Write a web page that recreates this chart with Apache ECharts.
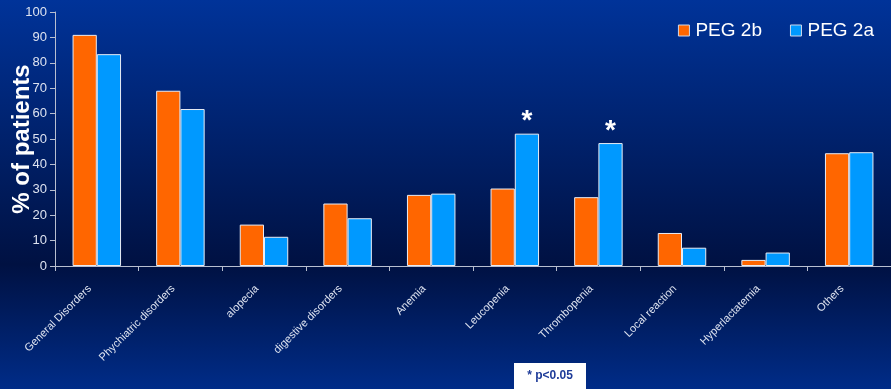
<!DOCTYPE html>
<html>
<head>
<meta charset="utf-8">
<script src="https://cdn.jsdelivr.net/npm/echarts@6/dist/echarts.min.js"></script>
<style>html,body{margin:0;padding:0;background:#001a55;}#c{width:891px;height:389px;}</style>
</head>
<body>
<div id="c"></div>
<script>
const categories = ['General Disorders','Phychiatric disorders','alopecia','digestive disorders','Anemia','Leucopenia','Thrombopenia','Local reaction','Hyperlactatemia','Others'];
const peg2b = [91, 69, 16.3, 24.6, 28, 30.5, 27.1, 13, 2.4, 44.4];
const peg2a = [83.4, 61.8, 11.5, 18.8, 28.5, 52.1, 48.4, 7.2, 5.3, 44.8];
const significant = [false, false, false, false, false, true, true, false, false, false];
const yTicks = [0, 10, 20, 30, 40, 50, 60, 70, 80, 90, 100];

const chart = echarts.init(document.getElementById('c'));
const barBorder = {borderColor: '#e8ecf4', borderWidth: 1};
chart.setOption({
  backgroundColor: {
    type: 'linear', x: 0, y: 0, x2: 0, y2: 1,
    colorStops: [
      {offset: 0, color: '#003399'},
      {offset: 0.68, color: '#001142'},
      {offset: 1, color: '#002c88'}
    ]
  },
  animation: false,
  grid: {left: 55, right: 0, top: 12, bottom: 123, containLabel: false, outerBoundsMode: 'none'},
  legend: {
    top: 16, right: 12, itemWidth: 11, itemHeight: 11, itemGap: 28,
    icon: 'rect',
    textStyle: {color: '#ffffff', fontSize: 19, fontFamily: 'Liberation Sans, Arial, sans-serif', padding: [0, 0, 0, 1]},
    data: [
      {name: 'PEG 2b', itemStyle: {borderColor: '#cfd8ea', borderWidth: 1}},
      {name: 'PEG 2a', itemStyle: {borderColor: '#cfd8ea', borderWidth: 1}}
    ]
  },
  xAxis: {
    type: 'category', data: categories,
    axisLine: {lineStyle: {color: '#b8bfd0', width: 1}},
    axisTick: {show: true, inside: false, length: 5, alignWithLabel: false, lineStyle: {color: '#b8bfd0'}},
    axisLabel: {
      interval: 0, rotate: 45, margin: 14, padding: [0, 10, 0, 0],
      color: '#dde3f0', fontSize: 11, fontFamily: 'Liberation Sans, Arial, sans-serif'
    }
  },
  yAxis: {
    type: 'value', min: yTicks[0], max: yTicks[yTicks.length - 1], interval: 10,
    name: '% of patients', nameLocation: 'middle', nameGap: 21, nameRotate: 90,
    nameMoveOverlap: false,
    nameTextStyle: {color: '#ffffff', fontSize: 24, fontWeight: 'bold', fontFamily: 'Liberation Sans, Arial, sans-serif'},
    axisLine: {show: true, lineStyle: {color: '#b8bfd0'}},
    axisTick: {show: true, length: 5, lineStyle: {color: '#b8bfd0'}},
    splitLine: {show: false},
    axisLabel: {color: '#dde3f0', fontSize: 13, margin: 8, fontFamily: 'Liberation Sans, Arial, sans-serif'}
  },
  series: [
    {
      name: 'PEG 2b', type: 'bar', data: peg2b,
      barGap: '0%', barCategoryGap: '42%',
      itemStyle: Object.assign({color: '#ff6600'}, barBorder)
    },
    {
      name: 'PEG 2a', type: 'bar',
      data: peg2a.map((v, i) => significant[i] ? {
        value: v,
        label: {show: true, position: 'top', formatter: '*', color: '#ffffff', fontSize: 28, fontWeight: 'bold', distance: -2, fontFamily: 'Liberation Sans, Arial, sans-serif'}
      } : v),
      itemStyle: Object.assign({color: '#0099ff'}, barBorder)
    }
  ],
  graphic: [
    {
      type: 'group', left: 514, top: 363,
      children: [
        {type: 'rect', shape: {x: 0, y: 0, width: 72, height: 26}, style: {fill: '#ffffff'}},
        {type: 'text', x: 36, y: 13, style: {text: '* p<0.05', fill: '#1f3c99', font: 'bold 12px Liberation Sans, Arial, sans-serif', align: 'center', verticalAlign: 'middle'}}
      ]
    }
  ]
});
</script>
</body>
</html>
